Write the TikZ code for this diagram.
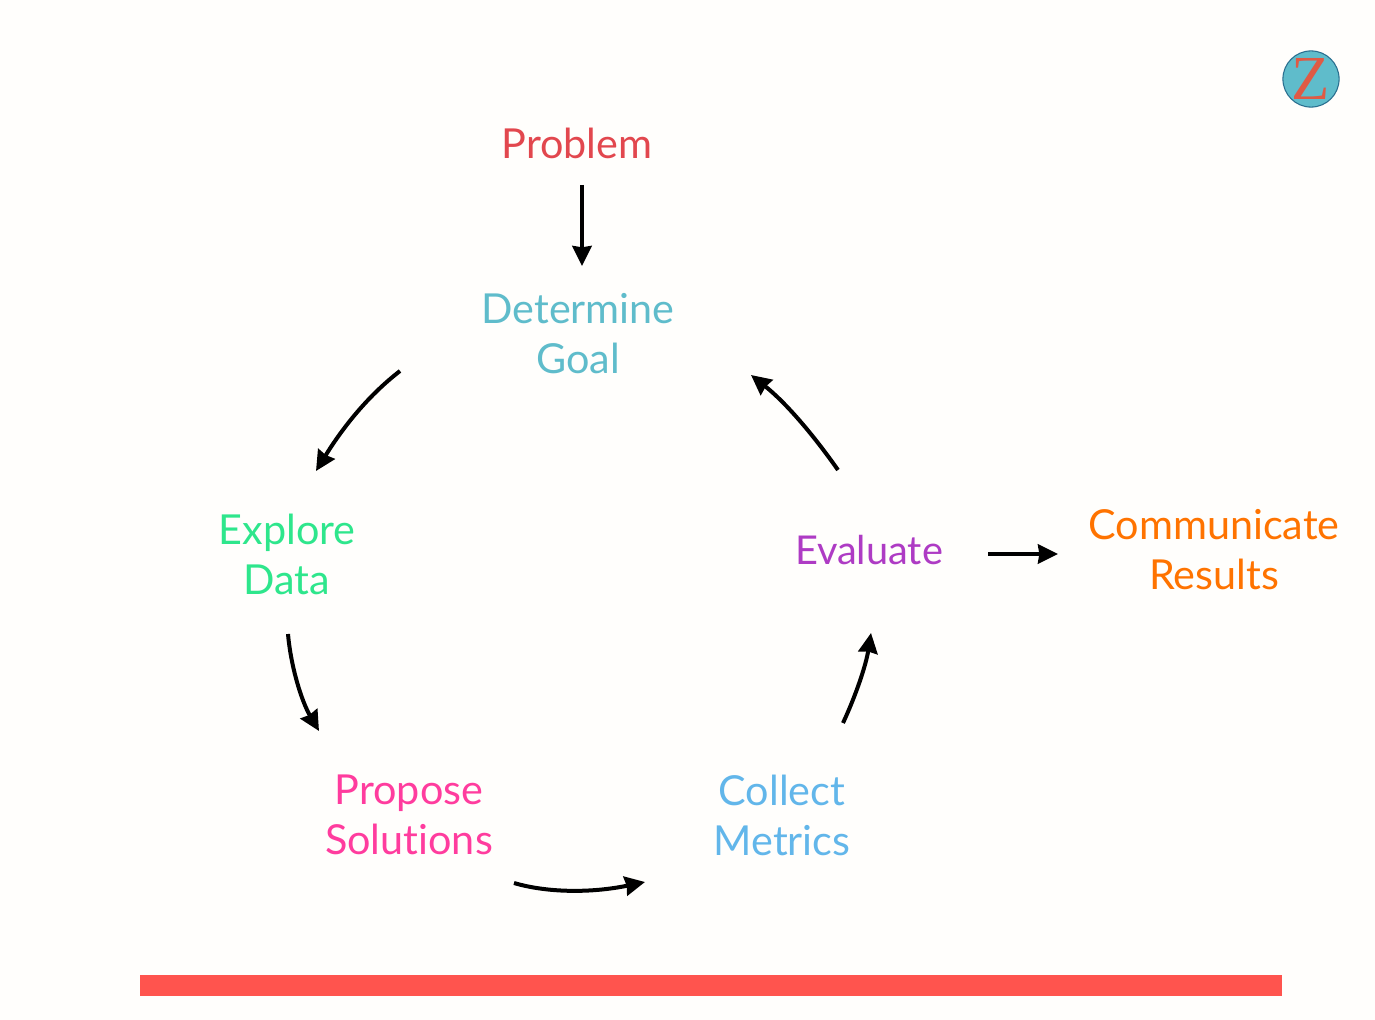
\documentclass[tikz,border=0pt]{standalone}
\usepackage{fontspec}
\setmainfont[Ligatures=NoCommon]{Lato}
\newfontfamily\zfont{Liberation Serif}
\usetikzlibrary{arrows.meta}
\definecolor{bgc}{HTML}{FFFEFC}
\definecolor{cprob}{HTML}{E2474E}
\definecolor{cgoal}{HTML}{5FBCCB}
\definecolor{cexpl}{HTML}{2EE68C}
\definecolor{cprop}{HTML}{FF3C9E}
\definecolor{ccoll}{HTML}{62B6EA}
\definecolor{ceval}{HTML}{AE3BC4}
\definecolor{ccomm}{HTML}{FF7300}
\definecolor{cbar}{HTML}{FF544E}
\definecolor{czed}{HTML}{DF5A45}
\definecolor{cring}{HTML}{2A6F8F}
\tikzset{
 lab/.style={align=center,font=\fontsize{31}{37.5}\selectfont,inner sep=0pt},
 arr/.style={draw=black,line width=3pt,-{Stealth[length=15pt,width=14.5pt,inset=1pt]}}
}
\begin{document}
\begin{tikzpicture}[x=0.75pt,y=-0.75pt]
\useasboundingbox (0,0) rectangle (1375,1020);
\fill[bgc] (0,0) rectangle (1375,1020);
\node[lab,text=cprob] (prob) at (577,143.5) {Problem};
\node[lab,text=cgoal] (goal) at (578,334) {Determine\\Goal};
\node[lab,text=cexpl] (expl) at (287,554.5) {Explore\\Data};
\node[lab,text=cprop] (prop) at (409,815) {Propose\\Solutions};
\node[lab,text=ccoll] (coll) at (782,815) {Collect\\Metrics};
\node[lab,text=ceval,font=\fontsize{29.8}{37.5}\selectfont] (eval) at (869,550) {Evaluate};
\node[lab,text=ccomm] (comm) at (1214,550) {Communicate\\Results};
\coordinate (a1) at (582,185); \coordinate (a2) at (582,266);
\coordinate (b1) at (400,371); \coordinate (b2) at (316,471);
\coordinate (c1) at (288,634); \coordinate (c2) at (319,731);
\coordinate (d1) at (514,883); \coordinate (d2) at (645,882);
\coordinate (e1) at (843,723); \coordinate (e2) at (871,633);
\coordinate (f1) at (838,470); \coordinate (f2) at (751,375);
\coordinate (g1) at (988,554); \coordinate (g2) at (1058,554);
\draw[arr] (a1) -- (a2);
\draw[arr] (b1) .. controls (365,398) and (340,432) .. (b2);
\draw[arr] (c1) .. controls (291,668) and (302,702) .. (c2);
\draw[arr] (d1) .. controls (548,893) and (592,893) .. (d2);
\draw[arr] (e1) .. controls (856,695) and (866,665) .. (e2);
\draw[arr] (f1) .. controls (812,433) and (785,402) .. (f2);
\draw[arr] (g1) -- (g2);
\fill[cbar] (140,975) rectangle (1282,996);
\node[circle,draw=cring,line width=0.8pt,fill=cgoal,minimum size=39.7pt,inner sep=0pt,text=czed,font=\zfont\fontsize{47}{47}\selectfont] (logo) at (1311,79) {Z};
\end{tikzpicture}
\end{document}
